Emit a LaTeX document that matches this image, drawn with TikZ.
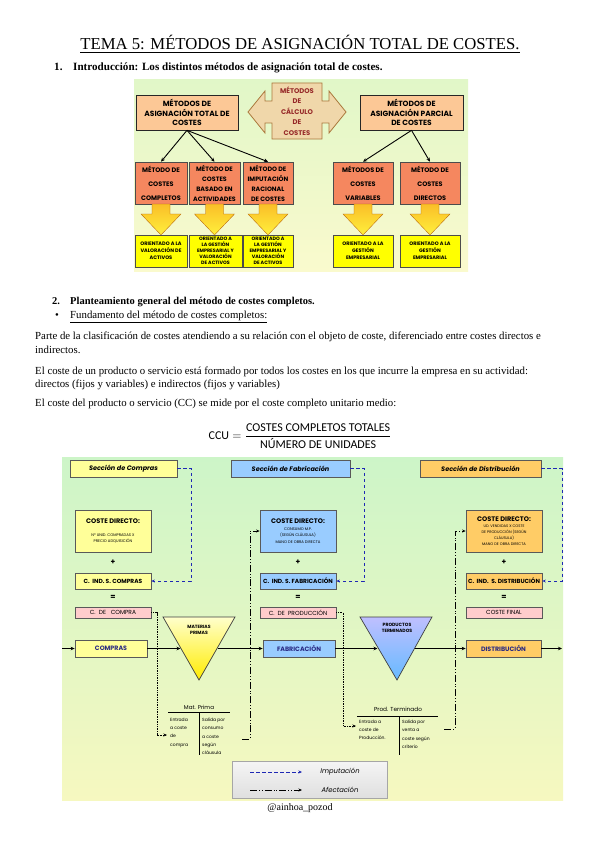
\documentclass[tikz,border=0pt]{standalone}
\usepackage{fontspec}
\usepackage{amsmath}
\setmainfont{Liberation Serif}
\newfontfamily\dfont{Poppins}
\newfontfamily\cfont{Carlito}
\usetikzlibrary{arrows.meta}
\definecolor{peach}{RGB}{252,200,150}
\definecolor{salmonc}{RGB}{245,135,95}
\definecolor{tanfill}{RGB}{240,215,170}
\definecolor{tanline}{RGB}{170,120,60}
\definecolor{dred}{RGB}{150,40,40}
\definecolor{ybox}{RGB}{255,255,0}
\definecolor{lyel}{RGB}{255,255,153}
\definecolor{lblue}{RGB}{153,204,255}
\definecolor{lorange}{RGB}{255,204,102}
\definecolor{lpink}{RGB}{255,204,204}
\definecolor{impblue}{RGB}{30,40,180}
\definecolor{dblue}{RGB}{40,40,130}
\definecolor{bgAtop}{RGB}{225,247,200}
\definecolor{bgAbot}{RGB}{250,250,205}
\definecolor{bgBtop}{RGB}{205,245,200}
\definecolor{bgBbot}{RGB}{246,248,192}
\definecolor{yarrowtop}{RGB}{250,190,40}
\definecolor{yarrowbot}{RGB}{255,240,60}
\tikzset{
  bodytext/.style={anchor=base west, inner sep=0pt, font=\fontsize{10.8}{12}\selectfont},
  boldtext/.style={anchor=base west, inner sep=0pt, font=\bfseries\fontsize{10.5}{12}\selectfont},
  peachbox/.style={draw=black!85, fill=peach, line width=0.7pt, align=center, inner sep=0pt,
    font=\dfont\bfseries\fontsize{7.5}{9.8}\selectfont},
  salbox/.style={draw=black!70, fill=salmonc, line width=0.5pt, align=center, inner sep=0pt,
    minimum height=42, font=\dfont\bfseries\fontsize{6.5}{14}\selectfont},
  salboxb/.style={salbox, font=\dfont\bfseries\fontsize{6.3}{10}\selectfont},
  ylbox/.style={draw=black!70, fill=ybox, line width=0.5pt, align=center, inner sep=0pt,
    minimum height=32, font=\dfont\bfseries\fontsize{5}{7.2}\selectfont},
  ylboxb/.style={ylbox, font=\dfont\bfseries\fontsize{4.8}{6.1}\selectfont},
  yarrow/.style={draw=orange!70!black, line width=0.3pt, top color=yarrowtop, bottom color=yarrowbot},
  blk/.style={-{Stealth[length=4pt,width=3.5pt]}, line width=0.9pt, black},
  secbox/.style={draw=black!65, line width=0.7pt, inner sep=0pt, minimum height=17,
    font=\dfont\bfseries\itshape\fontsize{6.5}{7}\selectfont},
  cdbox/.style={draw=black!65, line width=0.7pt, inner sep=0pt, minimum width=76, minimum height=42, align=center,
    font=\dfont\fontsize{3.8}{6.2}\selectfont},
  cdtitle/.style={},
  cibox/.style={draw=black!65, line width=0.7pt, inner sep=0pt, minimum width=76, minimum height=16,
    font=\dfont\bfseries\fontsize{5.9}{6}\selectfont},
  resbox/.style={draw=black!65, fill=lpink, line width=0.7pt, inner sep=0pt, minimum width=76, minimum height=11,
    font=\dfont\fontsize{5.9}{6}\selectfont},
  flowbox/.style={draw=black!65, line width=0.7pt, inner sep=0pt, minimum width=72, minimum height=17,
    text=dblue, font=\dfont\bfseries\fontsize{6.3}{6}\selectfont},
  opsign/.style={inner sep=0pt, font=\dfont\bfseries\fontsize{7.5}{8}\selectfont},
  tiny/.style={inner sep=0pt, align=left, font=\dfont\fontsize{4.5}{8.2}\selectfont},
  flow/.style={-{Stealth[length=4pt,width=3.5pt]}, line width=0.9pt, black},
  imp/.style={-{Stealth[length=3.5pt,width=3pt]}, line width=0.8pt, impblue, dash pattern=on 3.5pt off 2.5pt},
  afe/.style={-{Stealth[length=3.5pt,width=3pt]}, line width=0.7pt, black,
    dash pattern=on 7pt off 2pt on 0.8pt off 2pt on 0.8pt off 2pt},
  afd/.style={-{Stealth[length=3.5pt,width=3pt]}, line width=0.7pt, black, densely dotted},
}
\newcommand{\cdhead}{{\bfseries\fontsize{6.6}{7}\selectfont COSTE DIRECTO:}}
\begin{document}
\begin{tikzpicture}[x=1pt,y=-1pt]
\useasboundingbox (0,0) rectangle (599,848);
\fill[white] (0,0) rectangle (599,848);

% ---- title and text
\node[anchor=base, inner sep=0pt, font=\fontsize{16.7}{20}\selectfont] (title) at (300,50)
  {\underline{TEMA 5: MÉTODOS DE ASIGNACIÓN TOTAL DE COSTES.}};
\node[boldtext, font=\bfseries\fontsize{11.1}{12}\selectfont] (h1num) at (54,71) {1.};
\node[boldtext, font=\bfseries\fontsize{11.1}{12}\selectfont] (h1) at (73,71) {Introducción: Los distintos métodos de asignación total de costes.};
\node[boldtext] (h2num) at (52,304) {2.};
\node[boldtext] (h2) at (70,304) {Planteamiento general del método de costes completos.};
\node[bodytext] (bul) at (55,318) {•};
\node[bodytext] (fund) at (70,318) {\underline{Fundamento del método de costes completos:}};
\node[bodytext] (p1) at (35,339) {Parte de la clasificación de costes atendiendo a su relación con el objeto de coste, diferenciado entre costes directos e};
\node[bodytext] (p2) at (35,353) {indirectos.};
\node[bodytext] (p3) at (35,374) {El coste de un producto o servicio está formado por todos los costes en los que incurre la empresa en su actividad:};
\node[bodytext] (p4) at (35,387) {directos (fijos y variables) e indirectos (fijos y variables)};
\node[bodytext] (p5) at (35,406) {El coste del producto o servicio (CC) se mide por el coste completo unitario medio:};
\node[inner sep=0pt, font=\cfont\fontsize{12}{14}\selectfont] (ccu) at (300,436)
  {$\text{CCU}=\dfrac{\text{COSTES COMPLETOS TOTALES}}{\text{NÚMERO DE UNIDADES}}$};
\node[anchor=base, inner sep=0pt, font=\fontsize{10}{12}\selectfont] (firma) at (300,810) {@ainhoa\_pozod};

% ---- top diagram
\fill[top color=bgAtop, bottom color=bgAbot] (134,80) rectangle (468,271);
\node[peachbox, minimum width=102, minimum height=35] (total) at (187,112.5) {MÉTODOS DE\\ASIGNACIÓN TOTAL DE\\COSTES};
\node[peachbox, minimum width=103, minimum height=35] (parcial) at (411.5,112.5) {MÉTODOS DE\\ASIGNACIÓN PARCIAL\\DE COSTES};
\draw[tanline, fill=tanfill, line width=0.8pt] (272,83) -- (322,83) -- (322,101) -- (329,101) -- (329,91)
  -- (346,112) -- (329,133) -- (329,123) -- (322,123) -- (322,139) -- (272,139) -- (272,123) -- (265,123)
  -- (265,133) -- (248,112) -- (265,91) -- (265,101) -- (272,101) -- cycle;
\node[inner sep=0pt, align=center, text=dred, font=\dfont\bfseries\fontsize{6.8}{10.4}\selectfont] (calc) at (297,111)
  {MÉTODOS\\DE\\CÁLCULO\\DE\\COSTES};

\node[salbox, minimum width=52] (m1) at (161,183) {MÉTODO DE\\COSTES\\COMPLETOS};
\node[salboxb, minimum width=51] (m2) at (214.5,183) {MÉTODO DE\\COSTES\\BASADO EN\\ACTIVIDADES};
\node[salboxb, minimum width=50] (m3) at (268,183) {MÉTODO DE\\IMPUTACIÓN\\RACIONAL\\DE COSTES};
\node[salbox, minimum width=60] (m4) at (363,183) {MÉTODOS DE\\COSTES\\VARIABLES};
\node[salbox, minimum width=60] (m5) at (430,183) {MÉTODO DE\\COSTES\\DIRECTOS};

\foreach \cx in {161,214.5,268,363,430}{
  \draw[yarrow] (\cx-9,204) -- (\cx+9,204) -- (\cx+9,214) -- (\cx+20,214) -- (\cx,235)
    -- (\cx-20,214) -- (\cx-9,214) -- cycle;
}

\node[ylbox, minimum width=52] (o1) at (161,251) {ORIENTADO A LA\\VALORACIÓN DE\\ACTIVOS};
\node[ylboxb, minimum width=53] (o2) at (215.5,251) {ORIENTADO A\\LA GESTIÓN\\EMPRESARIAL Y\\VALORACIÓN\\DE ACTIVOS};
\node[ylboxb, minimum width=50] (o3) at (268,251) {ORIENTADO A\\LA GESTIÓN\\EMPRESARIAL Y\\VALORACIÓN\\DE ACTIVOS};
\node[ylbox, minimum width=60] (o4) at (363,251) {ORIENTADO A LA\\GESTIÓN\\EMPRESARIAL};
\node[ylbox, minimum width=60] (o5) at (430,251) {ORIENTADO A LA\\GESTIÓN\\EMPRESARIAL};

\draw[blk] (total.south) -- (m1.north);
\draw[blk] (total.south) -- (m2.north);
\draw[blk] (total.south) -- (m3.north);
\draw[blk] (parcial.south) -- (m4.north);
\draw[blk] (parcial.south) -- (m5.north);

% ---- lower diagram
\fill[top color=bgBtop, bottom color=bgBbot] (62,457) rectangle (563,800);

\node[secbox, fill=lyel, minimum width=107] (secC) at (123.5,468.5) {Sección de Compras};
\node[secbox, fill=lblue, minimum width=119] (secF) at (290.5,468.5) {Sección de Fabricación};
\node[secbox, fill=lorange, minimum width=121] (secD) at (480.5,468.5) {Sección de Distribución};

\node[cdbox, fill=lyel] (cdC) at (113,531) {\cdhead\\[6pt]Nº UNID. COMPRADAS X\\PRECIO ADQUISICIÓN};
\node[cdbox, fill=lblue, font=\dfont\fontsize{3.8}{6.6}\selectfont] (cdF) at (298,531) {\cdhead\\CONSUMO M.P.\\(SEGÚN CLÁUSULA)\\MANO DE OBRA DIRECTA};
\node[cdbox, fill=lorange, font=\dfont\fontsize{3.7}{6}\selectfont] (cdD) at (504,531) {\cdhead\\UD. VENDIDAS X COSTE\\DE PRODUCCIÓN (SEGÚN\\CLÁUSULA)\\MANO DE OBRA DIRECTA};

\node[opsign] (plC) at (113,562) {+};
\node[opsign] (plF) at (298,562) {+};
\node[opsign] (plD) at (504,562) {+};

\node[cibox, fill=lyel] (ciC) at (113,581) {C.\ \ IND. S. COMPRAS};
\node[cibox, fill=lblue] (ciF) at (298,581) {C.\ \ IND. S. FABRICACIÓN};
\node[cibox, fill=lorange] (ciD) at (504,581) {C.\ \ IND.\ \ S. DISTRIBUCIÓN};

\node[opsign] (eqC) at (113,597.5) {=};
\node[opsign] (eqF) at (298,597.5) {=};
\node[opsign] (eqD) at (504,597.5) {=};

\node[resbox] (rC) at (113,612.5) {C.\ \ DE\ \ \ COMPRA};
\node[resbox] (rF) at (298,612.5) {C.\ \ DE\ \ PRODUCCIÓN};
\node[resbox] (rD) at (504,612.5) {COSTE FINAL};

\node[flowbox, fill=lyel] (compras) at (111,648.5) {COMPRAS};
\node[flowbox, fill=lblue] (fab) at (299,648.5) {FABRICACIÓN};
\node[flowbox, fill=lorange, minimum width=75] (dist) at (503.5,648.5) {DISTRIBUCIÓN};

% triangles
\draw[black!75, line width=0.7pt, top color=yellow!20, middle color=white, bottom color=yellow!85!orange]
  (163,617) -- (235,617) -- (199,680) -- cycle;
\node[inner sep=0pt, align=center, font=\dfont\bfseries\fontsize{4.6}{6}\selectfont] (mp) at (199,630) {MATERIAS\\PRIMAS};
\draw[black!75, line width=0.7pt, top color=blue!25!white, middle color=white, bottom color=blue!45!cyan!60!white]
  (360,617) -- (432,617) -- (397,680) -- cycle;
\node[inner sep=0pt, align=center, font=\dfont\bfseries\fontsize{4.6}{6}\selectfont] (pt) at (397,628) {PRODUCTOS\\TERMINADOS};

\coordinate (fstart) at (62,648.5);
\coordinate (fend) at (562,648.5);
\coordinate (mpL) at (180.5,648.5);
\coordinate (mpR) at (217.5,648.5);
\coordinate (ptL) at (377.5,648.5);
\coordinate (ptR) at (414.5,648.5);
\draw[flow] (fstart) -- (compras.west);
\draw[flow] (compras.east) -- (mpL);
\draw[flow] (mpR) -- (fab.west);
\draw[flow] (fab.east) -- (ptL);
\draw[flow] (ptR) -- (dist.west);
\draw[flow] (dist.east) -- (fend);

% T accounts
\node[inner sep=0pt, font=\dfont\fontsize{5.6}{6}\selectfont] (mpT) at (199,707) {Mat. Prima};
\coordinate (mpTl) at (168,712);
\coordinate (mpTr) at (230,712);
\coordinate (mpTb) at (199,755);
\draw[line width=0.6pt] (mpTl) -- (mpTr);
\draw[line width=0.6pt] (199,712) -- (mpTb);
\node[tiny, anchor=north west] (mpIn) at (170,718) {Entrada\\a coste\\de\\compra};
\node[tiny, anchor=north west] (mpOutT) at (202,718) {Salida por\\consumo\\a coste\\según\\cláusula};

\node[inner sep=0pt, font=\dfont\fontsize{5.8}{6}\selectfont] (ptT) at (398,709) {Prod. Terminado};
\coordinate (ptTl) at (357,716);
\coordinate (ptTr) at (438,716);
\coordinate (ptTb) at (399,755);
\draw[line width=0.6pt] (ptTl) -- (ptTr);
\draw[line width=0.6pt] (399,716) -- (ptTb);
\node[tiny, anchor=north west] (ptIn) at (359,720) {Entrada a\\coste de\\Producción.};
\node[tiny, anchor=north west] (ptOutT) at (402,720) {Salida por\\venta a\\coste según\\criterio};

% imputación
\draw[imp] (secC.east) -| (191,581) -- (ciC.east);
\draw[imp] (secF.east) -| (364,581) -- (ciF.east);
\draw[imp] (secD.east) -| (562,581) -- (ciD.east);

% afectación
\coordinate (mpEntry) at (167,735);
\coordinate (ptEntry) at (356,726);
\coordinate (mpOut) at (242,739);
\coordinate (ptOut) at (444,729);
\draw[afd] (rC.east) -| (157,735) -- (mpEntry);
\draw[afd] (rF.east) -| (343,726) -- (ptEntry);
\draw[afe] (mpOut) -| (250,531) -- (cdF.west);
\draw[afe] (ptOut) -| (455,531) -- (cdD.west);

% legend
\node[draw=gray!70, line width=0.8pt, top color=gray!8, bottom color=gray!25, minimum width=155, minimum height=37, inner sep=0pt] (legend) at (309.5,779.5) {};
\coordinate (l1a) at (250,772);
\coordinate (l1b) at (302,772);
\coordinate (l2a) at (250,790);
\coordinate (l2b) at (302,790);
\draw[imp] (l1a) -- (l1b);
\draw[afe, line width=0.9pt] (l2a) -- (l2b);
\node[inner sep=0pt, font=\dfont\itshape\fontsize{6.8}{7}\selectfont] (limp) at (340,772) {Imputación};
\node[inner sep=0pt, font=\dfont\itshape\fontsize{6.8}{7}\selectfont] (lafe) at (340,790) {Afectación};
\end{tikzpicture}
\end{document}
